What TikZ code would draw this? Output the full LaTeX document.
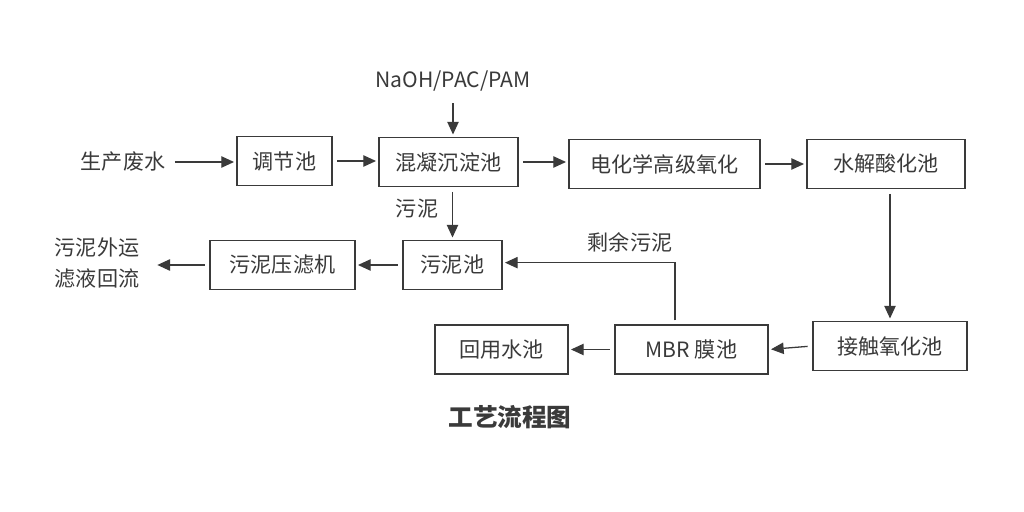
\documentclass[tikz,border=0pt]{standalone}
\usepackage{fontspec}
\setmainfont{Noto Sans CJK SC}
\usetikzlibrary{arrows.meta}
\definecolor{ink}{HTML}{3A3A3A}
\tikzset{
  pool/.style={draw=ink, line width=1.1pt, inner sep=0pt, minimum height=1.47cm, text=ink,
    font=\fontsize{18pt}{22pt}\selectfont},
  word/.style={text=ink, inner sep=0pt, font=\fontsize{18pt}{22pt}\selectfont},
  flow/.style={draw=ink, line width=1.1pt, -{Triangle[length=0.38cm,width=0.34cm]},
    shorten <=4pt, shorten >=2pt}
}
\begin{document}
\begin{tikzpicture}[x=0.03cm, y=-0.03cm]
   \useasboundingbox[fill=white] (0,0) rectangle (1024,512);
   \node[word] (feed) at (123,162) {生产废水};
   \node[pool, minimum width=2.85cm] (tiaojie) at (284.5,161) {调节池};
   \node[pool, minimum width=4.17cm] (hunning) at (448.5,162) {混凝沉淀池};
   \node[pool, minimum width=5.73cm] (dianhua) at (664.5,164) {电化学高级氧化};
   \node[pool, minimum width=4.74cm] (shuijie) at (886,164) {水解酸化池};
   \node[pool, minimum width=4.62cm] (jiechu) at (890,346) {接触氧化池};
   \node[pool, minimum width=4.59cm] (mbr) at (691.5,349.5) {MBR 膜池};
   \node[pool, minimum width=3.99cm] (huiyong) at (501.5,349.5) {回用水池};
   \node[pool, minimum width=2.97cm] (wunichi) at (452.5,265) {污泥池};
   \node[pool, minimum width=4.35cm] (yalvji) at (282.5,265) {污泥压滤机};
   \node[word] (dosing) at (453,81) {NaOH/PAC/PAM};
   \node[word] (sludge) at (417,209) {污泥};
   \node[word] (excess) at (630,242) {剩余污泥};
   \node[word, align=center] (out) at (97,263) {污泥外运\\[4pt]滤液回流};
   \node[text=ink, font=\fontsize{21pt}{25pt}\selectfont\bfseries] (title) at (510,417) {工艺流程图};
   \coordinate (riser) at (675,325);

   \draw[flow, shorten <=8pt] (feed) -- (feed -| tiaojie.west);
   \draw[flow] (tiaojie.east) -- (tiaojie.east -| hunning.west);
   \draw[flow, shorten <=10pt] (dosing) -- (hunning.north -| dosing);
   \draw[flow] (hunning.east) -- (hunning.east -| dianhua.west);
   \draw[flow] (dianhua.east) -- (dianhua.east -| shuijie.west);
   \draw[flow] (jiechu.north |- shuijie.south) -- (jiechu.north);
   \draw[flow] (jiechu.west) -- (mbr.east);
   \draw[flow] (mbr.west) -- (huiyong.east);
   \draw[flow] (riser) |- ([yshift=2pt]wunichi.east);
   \draw[flow] (wunichi.north |- hunning.south) -- (wunichi.north);
   \draw[flow] (wunichi.west) -- (yalvji.east);
   \draw[flow] (yalvji.west) -- (155,265);
\end{tikzpicture}
\end{document}
